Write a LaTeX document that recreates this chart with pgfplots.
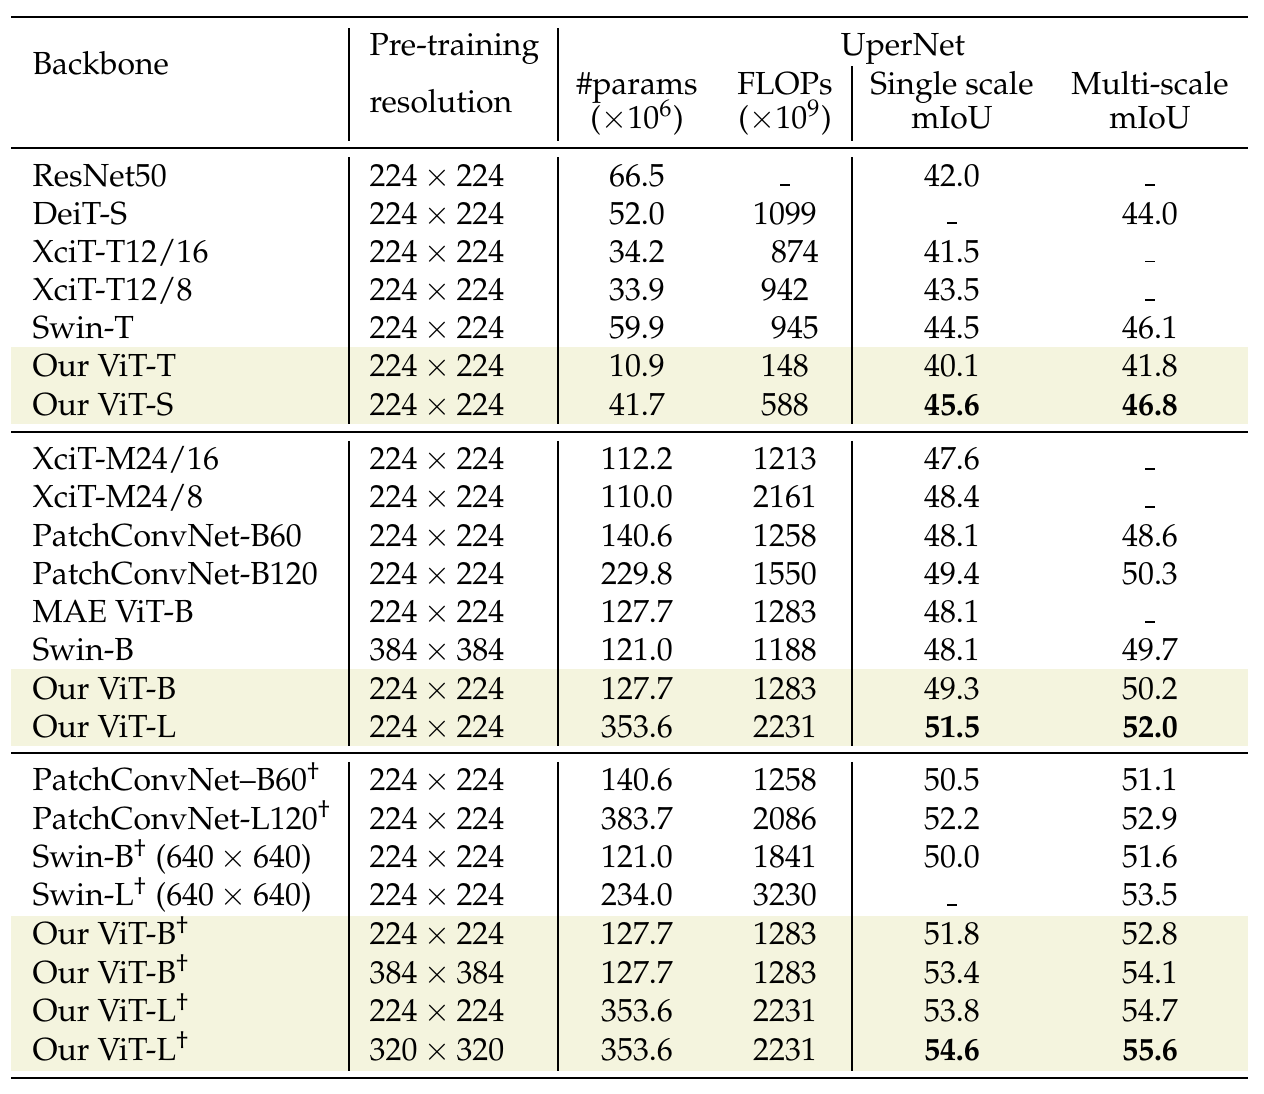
\documentclass[border=0pt]{standalone}
\usepackage[T1]{fontenc}
\usepackage{mathpazo}
\usepackage{pgfplots}
\usepackage{pgfplotstable}
\pgfplotsset{compat=1.18}
\definecolor{hl}{RGB}{244,244,222}
\newcommand{\na}{\rule{0.3em}{0.06em}}
\newcommand{\dg}{\textsuperscript{\textdagger}}
\pgfplotstableread[col sep=comma]{
y,name,res,par,fx,flo,sgl,mul
186,ResNet50,$224\times224$,66.5,785,\na,42.0,\na
224,DeiT-S,$224\times224$,52.0,785,1099,\na,44.0
262.5,XciT-T12/16,$224\times224$,34.2,795,874,41.5,\na
300.5,XciT-T12/8,$224\times224$,33.9,785,942,43.5,\na
339,Swin-T,$224\times224$,59.9,795,945,44.5,46.1
377,Our ViT-T,$224\times224$,10.9,785,148,40.1,41.8
415.5,Our ViT-S,$224\times224$,41.7,785,588,\textbf{45.6},\textbf{46.8}
470,XciT-M24/16,$224\times224$,112.2,785,1213,47.6,\na
508,XciT-M24/8,$224\times224$,110.0,785,2161,48.4,\na
546.5,PatchConvNet-B60,$224\times224$,140.6,785,1258,48.1,48.6
584.5,PatchConvNet-B120,$224\times224$,229.8,785,1550,49.4,50.3
623,MAE ViT-B,$224\times224$,127.7,785,1283,48.1,\na
661,Swin-B,$384\times384$,121.0,785,1188,48.1,49.7
699.5,Our ViT-B,$224\times224$,127.7,785,1283,49.3,50.2
737.5,Our ViT-L,$224\times224$,353.6,785,2231,\textbf{51.5},\textbf{52.0}
791,PatchConvNet--B60\dg,$224\times224$,140.6,785,1258,50.5,51.1
829.5,PatchConvNet-L120\dg,$224\times224$,383.7,785,2086,52.2,52.9
868,Swin-B\dg{} ($640\times640$),$224\times224$,121.0,785,1841,50.0,51.6
906,Swin-L\dg{} ($640\times640$),$224\times224$,234.0,785,3230,\na,53.5
945,Our ViT-B\dg,$224\times224$,127.7,785,1283,51.8,52.8
983.5,Our ViT-B\dg,$384\times384$,127.7,785,1283,53.4,54.1
1022,Our ViT-L\dg,$224\times224$,353.6,785,2231,53.8,54.7
1060.5,Our ViT-L\dg,$320\times320$,353.6,785,2231,\textbf{54.6},\textbf{55.6}
}\data
\begin{document}
\begin{tikzpicture}
\begin{axis}[
  scale only axis, width=396.2pt, height=342.9pt,
  xmin=0, xmax=1264, ymin=0, ymax=1094, y dir=reverse,
  hide axis, clip=false,
  every node near coord/.append style={inner sep=0pt, black, font=\normalsize},
  txt/.style={only marks, mark=none, nodes near coords, point meta=explicit symbolic},
]
% invisible frame to fix the bounding box
\addplot[draw=none] coordinates {(0,0) (1264,1094)};
% highlighted rows
\addplot[fill=hl, draw=none] coordinates {(11,347) (1248,347) (1248,424) (11,424)} -- cycle;
\addplot[fill=hl, draw=none] coordinates {(11,669) (1248,669) (1248,746) (11,746)} -- cycle;
\addplot[fill=hl, draw=none] coordinates {(11,916) (1248,916) (1248,1071) (11,1071)} -- cycle;
% horizontal rules
\addplot[black, line width=0.85pt] coordinates {(11,17) (1248,17)};
\addplot[black, line width=0.5pt] coordinates {(11,148) (1248,148)};
\addplot[black, line width=0.5pt] coordinates {(11,432) (1248,432)};
\addplot[black, line width=0.5pt] coordinates {(11,753) (1248,753)};
\addplot[black, line width=0.85pt] coordinates {(11,1078) (1248,1078)};
% vertical rules
\addplot[black, line width=0.35pt] coordinates {(349,28) (349,141)};
\addplot[black, line width=0.35pt] coordinates {(558,28) (558,141)};
\addplot[black, line width=0.35pt] coordinates {(852,66) (852,141)};
\foreach \a/\b in {157/424, 441/746, 762/1071}{
  \addplot[black, line width=0.35pt] coordinates {(349,\a) (349,\b)};
  \addplot[black, line width=0.35pt] coordinates {(558,\a) (558,\b)};
  \addplot[black, line width=0.35pt] coordinates {(852,\a) (852,\b)};
}
% header
\node[anchor=base west, inner sep=0pt] at (axis cs:32,74) {Backbone};
\node[anchor=base west, inner sep=0pt] at (axis cs:369,55) {Pre-training};
\node[anchor=base west, inner sep=0pt] at (axis cs:369,112) {resolution};
\node[anchor=base, inner sep=0pt] at (axis cs:903,55) {UperNet};
\node[anchor=base, inner sep=0pt] at (axis cs:637,94) {\#params};
\node[anchor=base, inner sep=0pt] at (axis cs:637,128) {($\times10^6$)};
\node[anchor=base, inner sep=0pt] at (axis cs:785,94) {FLOPs};
\node[anchor=base, inner sep=0pt] at (axis cs:785,128) {($\times10^9$)};
\node[anchor=base, inner sep=0pt] at (axis cs:952,94) {Single scale};
\node[anchor=base, inner sep=0pt] at (axis cs:952,128) {mIoU};
\node[anchor=base, inner sep=0pt] at (axis cs:1150,94) {Multi-scale};
\node[anchor=base, inner sep=0pt] at (axis cs:1150,128) {mIoU};
% body
\addplot[txt, every node near coord/.append style={anchor=base west}] table[x expr=32, y=y, meta=name] {\data};
\addplot[txt, every node near coord/.append style={anchor=base west}] table[x expr=369, y=y, meta=res] {\data};
\addplot[txt, every node near coord/.append style={anchor=base}] table[x expr=637, y=y, meta=par] {\data};
\addplot[txt, every node near coord/.append style={anchor=base}] table[x=fx, y=y, meta=flo] {\data};
\addplot[txt, every node near coord/.append style={anchor=base}] table[x expr=952, y=y, meta=sgl] {\data};
\addplot[txt, every node near coord/.append style={anchor=base}] table[x expr=1150, y=y, meta=mul] {\data};
\end{axis}
\end{tikzpicture}
\end{document}
